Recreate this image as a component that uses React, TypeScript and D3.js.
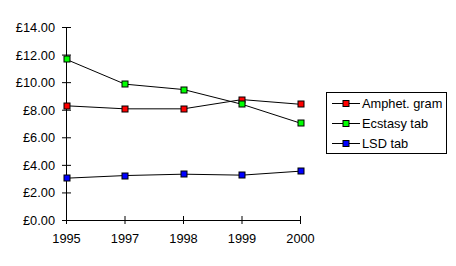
import React from "react";
import * as d3 from "d3";

const years = ["1995", "1997", "1998", "1999", "2000"];
const amphet = [8.32, 8.1, 8.1, 8.77, 8.43];
const ecstasy = [11.68, 9.89, 9.5, 8.43, 7.06];
const lsd = [3.07, 3.26, 3.36, 3.29, 3.58];
const seriesNames = ["Amphet. gram", "Ecstasy tab", "LSD tab"];
const seriesColors = ["#ff0000", "#00ff00", "#0000ff"];
const yTicks = [0, 2, 4, 6, 8, 10, 12, 14];

export default function App() {
  const W = 456, H = 266;
  const x = d3.scalePoint<string>().domain(years).range([66.5, 300.5]);
  const y = d3.scaleLinear().domain([0, 14]).range([220.5, 27.5]);
  const series = [amphet, ecstasy, lsd];
  const line = d3.line<number>().x((_, i) => x(years[i]) as number).y((d) => y(d));
  const font = "'Liberation Sans', Arial, sans-serif";
  return (
    <svg width={W} height={H} style={{ position: "absolute", left: 0, top: 0, background: "#fff" }} fontFamily={font} fontSize={12.8}>
      <rect x={0} y={0} width={W} height={H} fill="#fff" />
      {/* y axis */}
      <line x1={66.5} x2={66.5} y1={y(14)} y2={y(0)} stroke="#000" />
      {yTicks.map((t) => (
        <g key={t}>
          <line x1={62} x2={71} y1={y(t)} y2={y(t)} stroke="#000" />
          <text x={55} y={y(t) + 4.5} textAnchor="end">{"£" + t.toFixed(2)}</text>
        </g>
      ))}
      {/* x axis */}
      <line x1={66.5} x2={300.5} y1={y(0)} y2={y(0)} stroke="#000" />
      {years.map((yr) => (
        <g key={yr}>
          <line x1={x(yr)} x2={x(yr)} y1={216} y2={224} stroke="#000" />
          <text x={x(yr)} y={243} textAnchor="middle">{yr}</text>
        </g>
      ))}
      {series.map((s, si) => (
        <g key={si}>
          <path d={line(s) || ""} fill="none" stroke="#000" strokeWidth={1} />
          {s.map((v, i) => (
            <rect key={i} x={Math.round(x(years[i]) as number) - 3} y={Math.round(y(v)) - 3} width={6} height={6}
              fill={seriesColors[si]} stroke="#000" strokeWidth={1} />
          ))}
        </g>
      ))}
      {/* legend */}
      <rect x={326.5} y={92.5} width={120} height={61} fill="#fff" stroke="#000" />
      {seriesNames.map((n, i) => {
        const ly = 103.5 + i * 20;
        return (
          <g key={n}>
            <line x1={332} x2={360} y1={ly} y2={ly} stroke="#000" />
            <rect x={343} y={ly - 3} width={6} height={6} fill={seriesColors[i]} stroke="#000" />
            <text x={362} y={ly + 4.5}>{n}</text>
          </g>
        );
      })}
    </svg>
  );
}
